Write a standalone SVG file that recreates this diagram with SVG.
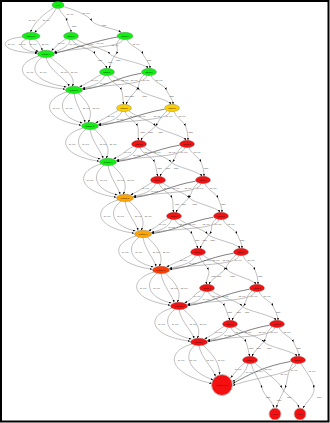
<svg xmlns="http://www.w3.org/2000/svg" width="330" height="423" viewBox="0 0 330 423">
<style>
.e{fill:none;stroke:#8c8c8c;stroke-width:0.55;marker-end:url(#ah)}
.d{fill:none;stroke:#2a2a2a;stroke-width:0.6;marker-end:url(#ah)}
.m{fill:none;stroke:#8c8c8c;stroke-width:0.55;marker-mid:url(#ah);marker-end:url(#ah)}
.el{font-family:"Liberation Sans",Arial,sans-serif;font-size:1.9px;fill:#444;text-anchor:middle}
.nl{font-family:"Liberation Sans",Arial,sans-serif;font-size:2.2px;fill:#1a1a1a;text-anchor:middle}
.n{stroke:#5a5a5a;stroke-width:0.3}
.g{fill:#10f010}.y{fill:#f8cf00}.o{fill:#ffa500}.r{fill:#f41010}.ro{fill:#ff3a00}
</style>
<defs>
<marker id="ah" markerUnits="userSpaceOnUse" markerWidth="3" markerHeight="2.2" refX="2.6" refY="1" orient="auto"><path d="M0,0 L2.6,1 L0,2 z" fill="#000"/></marker>
</defs>
<rect x="1" y="1" width="327.5" height="420.5" fill="#fff" stroke="#000" stroke-width="2"/>
<g id="connectors">
<path class="e" d="M54,7.5 C44,14 34,22 30.5,32.3"/>
<path class="e" d="M56,8.2 C52,18 42,25 34.5,32.6"/>
<path class="m" d="M59,8.3 C60,13 66,16 67,21 C68,26 71,28 71,32.3"/>
<path class="m" d="M63,6.5 C75,10 88,15 92,21 C96,27 116,28 121,32.6"/>
<path class="e" d="M22.3,37 C-3,39 -2,52 37.4,53.3"/>
<path class="e" d="M26,39.2 C16,44 22,51 37.6,52.5"/>
<path class="e" d="M30,39.5 C28,46 34,50 38.6,51.5"/>
<path class="e" d="M35,39.2 C40,44 41,47 42.5,50.7"/>
<path class="e" d="M66,38.8 C60,43 56,46 51.5,50.8"/>
<path class="e" d="M70,39.5 C70,46 62,49 54,52.3"/>
<path class="d" d="M117.5,37 C95,41 80,47 54.6,53.4"/>
<path class="e" d="M123,39.4 C122,48 80,47 54.3,52.8"/>
<path class="m" d="M72,39.5 C74,46 93,49 95,54 C97,59 105,63 107,68.4"/>
<path class="m" d="M76,39 C83,45 106,49 110,54 C114,59 145,63 148,68.4"/>
<path class="m" d="M120,39 C113,45 120,49 116,54 C112,59 111,63 109,68.5"/>
<path class="m" d="M127,39.4 C129,46 141,49 143,54 C145,59 150,63 150,68.4"/>
<path class="e" d="M39,56 C12,64 16,84 65.2,89.2"/>
<path class="e" d="M42,57.2 C28,68 34,82 66.5,87"/>
<path class="e" d="M46,57.5 C48,70 68,80 69,86.6"/>
<path class="e" d="M50,57 C60,66 78,76 72,86.4"/>
<path class="e" d="M101,74.5 C91,80 90,82 79.5,86.9"/>
<path class="e" d="M105,75.4 C101,84 92,86 82.2,88.5"/>
<path class="d" d="M141.5,73.2 C114,78 109,86 82.8,89.6"/>
<path class="e" d="M147,75.4 C146,86 104,84 82.6,88.9"/>
<path class="m" d="M108,75.5 C110,82 119.5,85 121.5,90 C123.5,95 122,99 124,104.4"/>
<path class="m" d="M112,75 C119,81 135.5,85 139.5,90 C143.5,95 168,99 171,104.4"/>
<path class="m" d="M144,75 C137,81 140.5,85 136.5,90 C132.5,95 128,99 126,104.5"/>
<path class="m" d="M151,75.4 C153,82 164.5,85 166.5,90 C168.5,95 173,99 173,104.4"/>
<path class="e" d="M67,92 C40,100 44,120 81.2,125.2"/>
<path class="e" d="M70,93.2 C56,104 62,118 82.5,123"/>
<path class="e" d="M74,93.5 C76,106 84,116 85,122.6"/>
<path class="e" d="M78,93 C88,102 94,112 88,122.4"/>
<path class="e" d="M118,110.5 C108,116 106,118 95.5,122.9"/>
<path class="e" d="M122,111.4 C118,120 108,122 98.2,124.5"/>
<path class="d" d="M164.5,109.2 C137,114 125,122 98.8,125.6"/>
<path class="e" d="M170,111.4 C169,122 120,120 98.6,124.9"/>
<path class="m" d="M125,111.5 C127,118 135.5,121 137.5,126 C139.5,131 137,135 139,140.4"/>
<path class="m" d="M129,111 C136,117 151.5,121 155.5,126 C159.5,131 183,135 186,140.4"/>
<path class="m" d="M167,111 C160,117 159.5,121 155.5,126 C151.5,131 143,135 141,140.5"/>
<path class="m" d="M174,111.4 C176,118 183.5,121 185.5,126 C187.5,131 188,135 188,140.4"/>
<path class="e" d="M83,128 C56,136 60,156 99.2,161.2"/>
<path class="e" d="M86,129.2 C72,140 78,154 100.5,159"/>
<path class="e" d="M90,129.5 C92,142 102,152 103,158.6"/>
<path class="e" d="M94,129 C104,138 112,148 106,158.4"/>
<path class="e" d="M133,146.5 C123,152 124,154 113.5,158.9"/>
<path class="e" d="M137,147.4 C133,156 126,158 116.2,160.5"/>
<path class="d" d="M179.5,145.2 C152,150 143,158 116.8,161.6"/>
<path class="e" d="M185,147.4 C184,158 138,156 116.6,160.9"/>
<path class="m" d="M140,147.5 C142,154 152.5,157 154.5,162 C156.5,167 156,171 158,176.4"/>
<path class="m" d="M144,147 C151,153 167,157 171,162 C175,167 199,171 202,176.4"/>
<path class="m" d="M182,147 C175,153 176.5,157 172.5,162 C168.5,167 162,171 160,176.5"/>
<path class="m" d="M189,147.4 C191,154 199,157 201,162 C203,167 204,171 204,176.4"/>
<path class="e" d="M101,164 C74,172 78,192 116.2,197.2"/>
<path class="e" d="M104,165.2 C90,176 96,190 117.5,195"/>
<path class="e" d="M108,165.5 C110,178 119,188 120,194.6"/>
<path class="e" d="M112,165 C122,174 129,184 123,194.4"/>
<path class="e" d="M152,182.5 C142,188 141,190 130.5,194.9"/>
<path class="e" d="M156,183.4 C152,192 143,194 133.2,196.5"/>
<path class="d" d="M195.5,181.2 C168,186 160,194 133.8,197.6"/>
<path class="e" d="M201,183.4 C200,194 155,192 133.6,196.9"/>
<path class="m" d="M159,183.5 C161,190 170,193 172,198 C174,203 172,207 174,212.4"/>
<path class="m" d="M163,183 C170,189 185.5,193 189.5,198 C193.5,203 217,207 220,212.4"/>
<path class="m" d="M198,183 C191,189 192.5,193 188.5,198 C184.5,203 178,207 176,212.5"/>
<path class="m" d="M205,183.4 C207,190 216,193 218,198 C220,203 222,207 222,212.4"/>
<path class="e" d="M118,200 C91,208 95,228 134.2,233.2"/>
<path class="e" d="M121,201.2 C107,212 113,226 135.5,231"/>
<path class="e" d="M125,201.5 C127,214 137,224 138,230.6"/>
<path class="e" d="M129,201 C139,210 147,220 141,230.4"/>
<path class="e" d="M168,218.5 C158,224 159,226 148.5,230.9"/>
<path class="e" d="M172,219.4 C168,228 161,230 151.2,232.5"/>
<path class="d" d="M213.5,217.2 C186,222 178,230 151.8,233.6"/>
<path class="e" d="M219,219.4 C218,230 173,228 151.6,232.9"/>
<path class="m" d="M175,219.5 C177,226 190,229 192,234 C194,239 196,243 198,248.4"/>
<path class="m" d="M179,219 C186,225 203.5,229 207.5,234 C211.5,239 237,243 240,248.4"/>
<path class="m" d="M216,219 C209,225 213.5,229 209.5,234 C205.5,239 202,243 200,248.5"/>
<path class="m" d="M223,219.4 C225,226 235,229 237,234 C239,239 242,243 242,248.4"/>
<path class="e" d="M136,236 C109,244 113,264 152.2,269.2"/>
<path class="e" d="M139,237.2 C125,248 131,262 153.5,267"/>
<path class="e" d="M143,237.5 C145,250 155,260 156,266.6"/>
<path class="e" d="M147,237 C157,246 165,256 159,266.4"/>
<path class="e" d="M192,254.5 C182,260 177,262 166.5,266.9"/>
<path class="e" d="M196,255.4 C192,264 179,266 169.2,268.5"/>
<path class="d" d="M233.5,253.2 C206,258 196,266 169.8,269.6"/>
<path class="e" d="M239,255.4 C238,266 191,264 169.6,268.9"/>
<path class="m" d="M199,255.5 C201,262 206.5,265 208.5,270 C210.5,275 205,279 207,284.4"/>
<path class="m" d="M203,255 C210,261 223.5,265 227.5,270 C231.5,275 253,279 256,284.4"/>
<path class="m" d="M236,255 C229,261 228,265 224,270 C220,275 211,279 209,284.5"/>
<path class="m" d="M243,255.4 C245,262 253,265 255,270 C257,275 258,279 258,284.4"/>
<path class="e" d="M154,272 C127,280 131,300 170.2,305.2"/>
<path class="e" d="M157,273.2 C143,284 149,298 171.5,303"/>
<path class="e" d="M161,273.5 C163,286 173,296 174,302.6"/>
<path class="e" d="M165,273 C175,282 183,292 177,302.4"/>
<path class="e" d="M201,290.5 C191,296 195,298 184.5,302.9"/>
<path class="e" d="M205,291.4 C201,300 197,302 187.2,304.5"/>
<path class="d" d="M249.5,289.2 C222,294 214,302 187.8,305.6"/>
<path class="e" d="M255,291.4 C254,302 209,300 187.6,304.9"/>
<path class="m" d="M208,291.5 C210,298 222.5,301 224.5,306 C226.5,311 228,315 230,320.4"/>
<path class="m" d="M212,291 C219,297 238,301 242,306 C246,311 273,315 276,320.4"/>
<path class="m" d="M252,291 C245,297 247.5,301 243.5,306 C239.5,311 234,315 232,320.5"/>
<path class="m" d="M259,291.4 C261,298 271,301 273,306 C275,311 278,315 278,320.4"/>
<path class="e" d="M172,308 C145,316 149,336 190.2,341.2"/>
<path class="e" d="M175,309.2 C161,320 167,334 191.5,339"/>
<path class="e" d="M179,309.5 C181,322 193,332 194,338.6"/>
<path class="e" d="M183,309 C193,318 203,328 197,338.4"/>
<path class="e" d="M224,326.5 C214,332 215,334 204.5,338.9"/>
<path class="e" d="M228,327.4 C224,336 217,338 207.2,340.5"/>
<path class="d" d="M269.5,325.2 C242,330 234,338 207.8,341.6"/>
<path class="e" d="M275,327.4 C274,338 229,336 207.6,340.9"/>
<path class="m" d="M231,327.5 C233,334 244,337 246,342 C248,347 248,351 250,356.4"/>
<path class="m" d="M235,327 C242,333 260,337 264,342 C268,347 294,351 297,356.4"/>
<path class="m" d="M272,327 C265,333 267.5,337 263.5,342 C259.5,347 254,351 252,356.5"/>
<path class="m" d="M279,327.4 C281,334 291.5,337 293.5,342 C295.5,347 299,351 299,356.4"/>
<path class="e" d="M192,344 C164,352 168,374 212,383.5"/>
<path class="e" d="M195,345.2 C182,356 190,372 213.5,380"/>
<path class="e" d="M199,345.5 C201,358 212,366 215.5,376.5"/>
<path class="e" d="M203,345 C212,354 220,362 219.5,374.8"/>
<path class="e" d="M245,362.8 C238,368 236,372 230.5,377.8"/>
<path class="e" d="M248,363.4 C246,372 240,378 232.2,381.5"/>
<path class="d" d="M290.5,361.5 C265,366 250,374 232.8,383.5"/>
<path class="e" d="M296,363.4 C295,374 260,376 232.6,385.5"/>
<path class="m" d="M251,363.5 C253,372 260,380 262,388 C264,396 272,400 274,407.8"/>
<path class="m" d="M255,363 C262,370 278,380 282,388 C286,396 297,400 299,407.8"/>
<path class="m" d="M293,363 C287,372 288,380 285,388 C282,396 278,400 276.5,407.8"/>
<path class="m" d="M301,363.4 C306,372 313,380 314,388 C315,396 306,402 303,408.2"/>
</g>
<g id="edge-labels">
<text class="el" x="32" y="20.5">a1: v0.5</text>
<text class="el" x="46" y="21">a2: v0.5</text>
<text class="el" x="70" y="14.5">a0: v0.5</text>
<text class="el" x="86" y="13.5">a0: v0.5</text>
<text class="el" x="74" y="26.5">parts</text>
<text class="el" x="104" y="25.5">parts</text>
<text class="el" x="11" y="45">a0: v0.5</text>
<text class="el" x="22" y="45">a1: v0.5</text>
<text class="el" x="33" y="45">a2: v0.5</text>
<text class="el" x="45" y="45">a3: v0.5</text>
<text class="el" x="61" y="43.5">b0: v0.5</text>
<text class="el" x="73" y="44.5">b1: v0.5</text>
<text class="el" x="100" y="43.5">b0: v0.5</text>
<text class="el" x="80" y="47">b2: v0.5</text>
<text class="el" x="90" y="44.5">b3: v0.5</text>
<text class="el" x="115" y="45.5">b2: v0.5</text>
<text class="el" x="136" y="45">b3: v0.5</text>
<text class="el" x="100" y="61">parts</text>
<text class="el" x="118" y="61">parts</text>
<text class="el" x="110" y="62.5">parts</text>
<text class="el" x="149" y="61">parts</text>
<text class="el" x="30" y="72.5">a0: v0.5</text>
<text class="el" x="43" y="72.5">a1: v0.5</text>
<text class="el" x="64" y="72.5">a2: v0.5</text>
<text class="el" x="74" y="72.5">a3: v0.5</text>
<text class="el" x="94.5" y="80.5">b0: v0.5</text>
<text class="el" x="103.5" y="84">b1: v0.5</text>
<text class="el" x="146" y="81">b0: v0.5</text>
<text class="el" x="116" y="81">b2: v0.5</text>
<text class="el" x="125" y="81">b3: v0.5</text>
<text class="el" x="134" y="81">b2: v0.5</text>
<text class="el" x="159" y="81">b3: v0.5</text>
<text class="el" x="126.5" y="97">parts</text>
<text class="el" x="144.5" y="97">parts</text>
<text class="el" x="131.5" y="97">parts</text>
<text class="el" x="171.5" y="97">parts</text>
<text class="el" x="56" y="108.5">a0: v0.5</text>
<text class="el" x="69" y="108.5">a1: v0.5</text>
<text class="el" x="86" y="108.5">a2: v0.5</text>
<text class="el" x="96" y="108.5">a3: v0.5</text>
<text class="el" x="111" y="116.5">b0: v0.5</text>
<text class="el" x="120" y="120">b1: v0.5</text>
<text class="el" x="169" y="117">b0: v0.5</text>
<text class="el" x="133" y="117">b2: v0.5</text>
<text class="el" x="142" y="117">b3: v0.5</text>
<text class="el" x="157" y="117">b2: v0.5</text>
<text class="el" x="182" y="117">b3: v0.5</text>
<text class="el" x="142.5" y="133">parts</text>
<text class="el" x="160.5" y="133">parts</text>
<text class="el" x="150.5" y="133">parts</text>
<text class="el" x="190.5" y="133">parts</text>
<text class="el" x="72" y="144.5">a0: v0.5</text>
<text class="el" x="85.5" y="144.5">a1: v0.5</text>
<text class="el" x="103" y="144.5">a2: v0.5</text>
<text class="el" x="113" y="144.5">a3: v0.5</text>
<text class="el" x="127.5" y="152.5">b0: v0.5</text>
<text class="el" x="136.5" y="156">b1: v0.5</text>
<text class="el" x="184" y="153">b0: v0.5</text>
<text class="el" x="148" y="153">b2: v0.5</text>
<text class="el" x="157" y="153">b3: v0.5</text>
<text class="el" x="172" y="153">b2: v0.5</text>
<text class="el" x="197" y="153">b3: v0.5</text>
<text class="el" x="159.5" y="169">parts</text>
<text class="el" x="176" y="169">parts</text>
<text class="el" x="167.5" y="169">parts</text>
<text class="el" x="206" y="169">parts</text>
<text class="el" x="90" y="180.5">a0: v0.5</text>
<text class="el" x="103.5" y="180.5">a1: v0.5</text>
<text class="el" x="120.5" y="180.5">a2: v0.5</text>
<text class="el" x="130.5" y="180.5">a3: v0.5</text>
<text class="el" x="145.5" y="188.5">b0: v0.5</text>
<text class="el" x="154.5" y="192">b1: v0.5</text>
<text class="el" x="200" y="189">b0: v0.5</text>
<text class="el" x="167" y="189">b2: v0.5</text>
<text class="el" x="176" y="189">b3: v0.5</text>
<text class="el" x="188" y="189">b2: v0.5</text>
<text class="el" x="213" y="189">b3: v0.5</text>
<text class="el" x="177" y="205">parts</text>
<text class="el" x="194.5" y="205">parts</text>
<text class="el" x="183.5" y="205">parts</text>
<text class="el" x="223" y="205">parts</text>
<text class="el" x="107" y="216.5">a0: v0.5</text>
<text class="el" x="120.5" y="216.5">a1: v0.5</text>
<text class="el" x="138" y="216.5">a2: v0.5</text>
<text class="el" x="148" y="216.5">a3: v0.5</text>
<text class="el" x="162.5" y="224.5">b0: v0.5</text>
<text class="el" x="171.5" y="228">b1: v0.5</text>
<text class="el" x="218" y="225">b0: v0.5</text>
<text class="el" x="183" y="225">b2: v0.5</text>
<text class="el" x="192" y="225">b3: v0.5</text>
<text class="el" x="206" y="225">b2: v0.5</text>
<text class="el" x="231" y="225">b3: v0.5</text>
<text class="el" x="197" y="241">parts</text>
<text class="el" x="212.5" y="241">parts</text>
<text class="el" x="204.5" y="241">parts</text>
<text class="el" x="242" y="241">parts</text>
<text class="el" x="125" y="252.5">a0: v0.5</text>
<text class="el" x="138.5" y="252.5">a1: v0.5</text>
<text class="el" x="156" y="252.5">a2: v0.5</text>
<text class="el" x="166" y="252.5">a3: v0.5</text>
<text class="el" x="183.5" y="260.5">b0: v0.5</text>
<text class="el" x="192.5" y="264">b1: v0.5</text>
<text class="el" x="238" y="261">b0: v0.5</text>
<text class="el" x="207" y="261">b2: v0.5</text>
<text class="el" x="216" y="261">b3: v0.5</text>
<text class="el" x="226" y="261">b2: v0.5</text>
<text class="el" x="251" y="261">b3: v0.5</text>
<text class="el" x="213.5" y="277">parts</text>
<text class="el" x="232.5" y="277">parts</text>
<text class="el" x="219" y="277">parts</text>
<text class="el" x="260" y="277">parts</text>
<text class="el" x="143" y="288.5">a0: v0.5</text>
<text class="el" x="156.5" y="288.5">a1: v0.5</text>
<text class="el" x="174" y="288.5">a2: v0.5</text>
<text class="el" x="184" y="288.5">a3: v0.5</text>
<text class="el" x="197" y="296.5">b0: v0.5</text>
<text class="el" x="206" y="300">b1: v0.5</text>
<text class="el" x="254" y="297">b0: v0.5</text>
<text class="el" x="216" y="297">b2: v0.5</text>
<text class="el" x="225" y="297">b3: v0.5</text>
<text class="el" x="242" y="297">b2: v0.5</text>
<text class="el" x="267" y="297">b3: v0.5</text>
<text class="el" x="229.5" y="313">parts</text>
<text class="el" x="247" y="313">parts</text>
<text class="el" x="238.5" y="313">parts</text>
<text class="el" x="278" y="313">parts</text>
<text class="el" x="161.5" y="324.5">a0: v0.5</text>
<text class="el" x="175" y="324.5">a1: v0.5</text>
<text class="el" x="193" y="324.5">a2: v0.5</text>
<text class="el" x="203" y="324.5">a3: v0.5</text>
<text class="el" x="218.5" y="332.5">b0: v0.5</text>
<text class="el" x="227.5" y="336">b1: v0.5</text>
<text class="el" x="274" y="333">b0: v0.5</text>
<text class="el" x="239" y="333">b2: v0.5</text>
<text class="el" x="248" y="333">b3: v0.5</text>
<text class="el" x="262" y="333">b2: v0.5</text>
<text class="el" x="287" y="333">b3: v0.5</text>
<text class="el" x="251" y="349">parts</text>
<text class="el" x="269" y="349">parts</text>
<text class="el" x="258.5" y="349">parts</text>
<text class="el" x="298.5" y="349">parts</text>
<text class="el" x="181" y="361">a0: v0.5</text>
<text class="el" x="193" y="361">a1: v0.5</text>
<text class="el" x="210" y="361">a2: v0.5</text>
<text class="el" x="221" y="361">a3: v0.5</text>
<text class="el" x="238" y="370">b0: v0.5</text>
<text class="el" x="249" y="373">b1: v0.5</text>
<text class="el" x="294" y="371">b0: v0.5</text>
<text class="el" x="259" y="372">b2: v0.5</text>
<text class="el" x="268" y="370">b3: v0.5</text>
<text class="el" x="284" y="375">b2: v0.5</text>
<text class="el" x="312" y="372">b3: v0.5</text>
<text class="el" x="268" y="398">parts</text>
<text class="el" x="289" y="398">parts</text>
<text class="el" x="279" y="401">parts</text>
<text class="el" x="319" y="398">parts</text>
</g>
<g id="n-root"><ellipse class="n g" cx="58" cy="5" rx="6" ry="3.4"/><text class="nl" x="58" y="5.7">root</text></g>
<g id="n-bottom0"><ellipse class="n g" cx="31" cy="36" rx="9" ry="3.7"/><text class="nl" x="31" y="36.7">bottom 0</text></g>
<g id="n-patch0"><ellipse class="n g" cx="71" cy="36" rx="7.5" ry="3.7"/><text class="nl" x="71" y="36.7">patch 0</text></g>
<g id="n-patchn"><ellipse class="n g" cx="125" cy="36" rx="8" ry="3.7"/><text class="nl" x="125" y="36.7">patch n</text></g>
<g id="n-bottom1"><ellipse class="n g" cx="46" cy="54" rx="8.5" ry="3.7"/><text class="nl" x="46" y="54.7">bottom 1</text></g>
<g id="n-patch1a"><ellipse class="n g" cx="107" cy="72" rx="7.5" ry="3.7"/><text class="nl" x="107" y="72.7">patch 1</text></g>
<g id="n-patch1b"><ellipse class="n g" cx="149" cy="72" rx="7.5" ry="3.7"/><text class="nl" x="149" y="72.7">patch 1</text></g>
<g id="n-bottom2"><ellipse class="n g" cx="74" cy="90" rx="8.5" ry="3.7"/><text class="nl" x="74" y="90.7">bottom 2</text></g>
<g id="n-patch2a"><ellipse class="n y" cx="124" cy="108" rx="7.5" ry="3.7"/><text class="nl" x="124" y="108.7">patch 2</text></g>
<g id="n-patch2b"><ellipse class="n y" cx="172" cy="108" rx="7.5" ry="3.7"/><text class="nl" x="172" y="108.7">patch 2</text></g>
<g id="n-bottom3"><ellipse class="n g" cx="90" cy="126" rx="8.5" ry="3.7"/><text class="nl" x="90" y="126.7">bottom 3</text></g>
<g id="n-patch3a"><ellipse class="n r" cx="139" cy="144" rx="7.5" ry="3.7"/><text class="nl" x="139" y="144.7">patch 3</text></g>
<g id="n-patch3b"><ellipse class="n r" cx="187" cy="144" rx="7.5" ry="3.7"/><text class="nl" x="187" y="144.7">patch 3</text></g>
<g id="n-bottom4"><ellipse class="n g" cx="108" cy="162" rx="8.5" ry="3.7"/><text class="nl" x="108" y="162.7">bottom 4</text></g>
<g id="n-patch4a"><ellipse class="n r" cx="158" cy="180" rx="7.5" ry="3.7"/><text class="nl" x="158" y="180.7">patch 4</text></g>
<g id="n-patch4b"><ellipse class="n r" cx="203" cy="180" rx="7.5" ry="3.7"/><text class="nl" x="203" y="180.7">patch 4</text></g>
<g id="n-bottom5"><ellipse class="n o" cx="125" cy="198" rx="8.5" ry="3.7"/><text class="nl" x="125" y="198.7">bottom 5</text></g>
<g id="n-patch5a"><ellipse class="n r" cx="174" cy="216" rx="7.5" ry="3.7"/><text class="nl" x="174" y="216.7">patch 5</text></g>
<g id="n-patch5b"><ellipse class="n r" cx="221" cy="216" rx="7.5" ry="3.7"/><text class="nl" x="221" y="216.7">patch 5</text></g>
<g id="n-bottom6"><ellipse class="n o" cx="143" cy="234" rx="8.5" ry="3.7"/><text class="nl" x="143" y="234.7">bottom 6</text></g>
<g id="n-patch6a"><ellipse class="n r" cx="198" cy="252" rx="7.5" ry="3.7"/><text class="nl" x="198" y="252.7">patch 6</text></g>
<g id="n-patch6b"><ellipse class="n r" cx="241" cy="252" rx="7.5" ry="3.7"/><text class="nl" x="241" y="252.7">patch 6</text></g>
<g id="n-bottom7"><ellipse class="n ro" cx="161" cy="270" rx="8.5" ry="3.7"/><text class="nl" x="161" y="270.7">bottom 7</text></g>
<g id="n-patch7a"><ellipse class="n r" cx="207" cy="288" rx="7.5" ry="3.7"/><text class="nl" x="207" y="288.7">patch 7</text></g>
<g id="n-patch7b"><ellipse class="n r" cx="257" cy="288" rx="7.5" ry="3.7"/><text class="nl" x="257" y="288.7">patch 7</text></g>
<g id="n-bottom8"><ellipse class="n r" cx="179" cy="306" rx="8.5" ry="3.7"/><text class="nl" x="179" y="306.7">bottom 8</text></g>
<g id="n-patch8a"><ellipse class="n r" cx="230" cy="324" rx="7.5" ry="3.7"/><text class="nl" x="230" y="324.7">patch 8</text></g>
<g id="n-patch8b"><ellipse class="n r" cx="277" cy="324" rx="7.5" ry="3.7"/><text class="nl" x="277" y="324.7">patch 8</text></g>
<g id="n-bottom9"><ellipse class="n r" cx="199" cy="342" rx="8.5" ry="3.7"/><text class="nl" x="199" y="342.7">bottom 9</text></g>
<g id="n-patch9a"><ellipse class="n r" cx="250" cy="360" rx="7.5" ry="3.7"/><text class="nl" x="250" y="360.7">patch 9</text></g>
<g id="n-patch9b"><ellipse class="n r" cx="298" cy="360" rx="7.5" ry="3.7"/><text class="nl" x="298" y="360.7">patch 9</text></g>
<g id="n-bottomend"><circle cx="222" cy="385" r="10.5" fill="#f41010" stroke="#c0c0c0" stroke-width="1"/><text class="nl" x="222" y="385.7">bottom end</text></g>
<g id="n-end1"><circle cx="275" cy="414" r="6" fill="#f41010" stroke="#c0c0c0" stroke-width="0.8"/><text class="nl" x="275" y="414.7">end 1</text></g>
<g id="n-end2"><circle cx="300" cy="414" r="6" fill="#f41010" stroke="#c0c0c0" stroke-width="0.8"/><text class="nl" x="300" y="414.7">end 2</text></g>
</svg>
